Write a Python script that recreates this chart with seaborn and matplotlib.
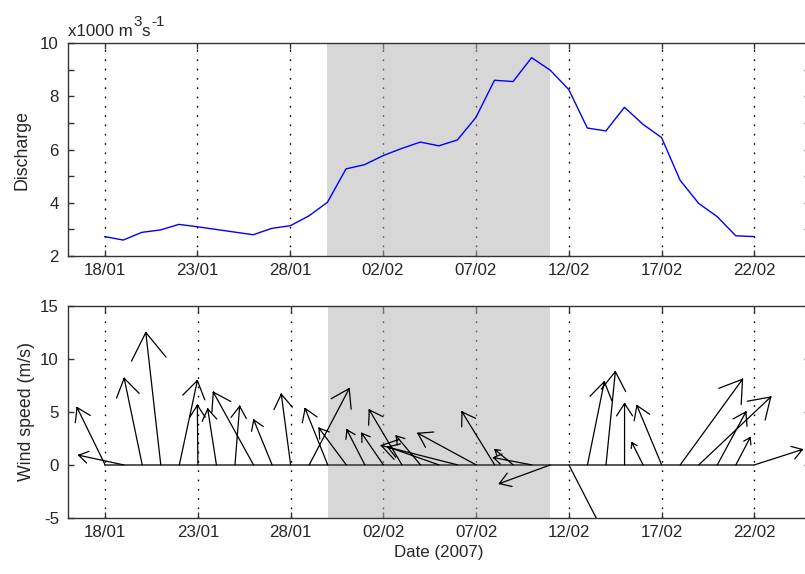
import numpy as np
import pandas as pd
import matplotlib
matplotlib.use("Agg")
import matplotlib.pyplot as plt
import matplotlib.dates as mdates
from matplotlib.ticker import FixedLocator, MultipleLocator
import seaborn as sns

# daily values, 18/01/2007 - 22/02/2007
days = pd.date_range("2007-01-18", "2007-02-22", freq="D")

# river discharge (x1000 m3/s)
discharge = [2.72, 2.59, 2.88, 2.97, 3.18, 3.09, 2.99, 2.89, 2.79, 3.03,
             3.13, 3.50, 4.01, 5.27, 5.43, 5.77, 6.04, 6.28, 6.14, 6.36,
             7.21, 8.61, 8.56, 9.46, 8.99, 8.26, 6.81, 6.70, 7.59, 6.95,
             6.45, 4.84, 3.97, 3.47, 2.75, 2.72]

# wind components (m/s), east / north
wind_u = [-2.64, -4.23, -1.70, -1.41, 1.70, -0.05, -0.82, 0.44, -3.79, -1.73,
          -0.88, 3.77, -2.13, -2.57, -1.69, -2.04, -3.08, -2.29, -4.83, -7.19,
          -5.49, -3.08, -1.72, -3.61, -4.80, 3.60, 1.59, 0.88, 0.00, -1.06,
          -2.33, 5.87, 6.78, 2.69, 1.35, 4.52]
wind_v = [5.40, 0.91, 8.16, 12.47, 7.95, 5.62, 5.27, 5.53, 6.85, 4.24,
          6.66, 7.19, 5.31, 3.46, 3.30, 2.98, 5.18, 2.73, 1.69, 1.83,
          2.98, 4.99, 1.44, 0.69, -1.76, -7.00, 7.84, 8.79, 5.78, 2.10,
          5.59, 8.07, 6.40, 4.99, 2.58, 1.45]

tick_dates = pd.date_range("2007-01-18", periods=8, freq="5D")
tick_labels = ["18/01", "23/01", "28/01", "02/02", "07/02", "12/02", "17/02", "22/02"]
shade_start, shade_end = pd.Timestamp("2007-01-30"), pd.Timestamp("2007-02-11")
x_start, x_end = pd.Timestamp("2007-01-16"), pd.Timestamp("2007-02-25")

sns.set_style("ticks")
plt.rcParams["font.family"] = ["Liberation Sans", "DejaVu Sans"]
plt.rcParams["axes.unicode_minus"] = False

FS = 12.2
SPINE = "#333333"


def style_axis(ax):
    ax.set_xlim(x_start, x_end)
    ax.xaxis.set_major_locator(FixedLocator(mdates.date2num(tick_dates.to_pydatetime())))
    ax.set_xticklabels(tick_labels)
    ax.set_axisbelow(True)
    ax.grid(axis="x", color="black", linestyle=(0, (1.2, 5.5)), lw=1)
    ax.grid(axis="y", visible=False)
    ax.axvspan(shade_start, shade_end, color="#b0b0b0", alpha=0.5, lw=0, zorder=1)
    ax.tick_params(which="both", direction="in", top=True, right=True,
                   length=4, width=1, color=SPINE, labelsize=FS)
    ax.tick_params(axis="x", pad=5)
    ax.tick_params(axis="y", pad=6.5)
    for sp in ax.spines.values():
        sp.set_visible(True)
        sp.set_color(SPINE)
        sp.set_linewidth(1)
        sp.set_zorder(3)
    ax.set_xlabel("")


fig = plt.figure(figsize=(8.05, 5.74), dpi=100)
ax1 = fig.add_axes([0.0839, 0.5545, 0.9224, 0.3700])
ax2 = fig.add_axes([0.0845, 0.0976, 0.9218, 0.3699])

# --- discharge ---
sns.lineplot(x=days, y=discharge, ax=ax1, color="blue", lw=1, zorder=4)
style_axis(ax1)
ax1.set_ylim(2, 10)
ax1.yaxis.set_major_locator(MultipleLocator(2))
ax1.yaxis.set_minor_locator(MultipleLocator(1))
ax1.set_ylabel("Discharge", fontsize=12.8, labelpad=7)

# unit label, superscripts almost full size as in the original
u1 = ax1.text(0, 1 + 4.6 / 212, "x1000 m", transform=ax1.transAxes,
              ha="left", va="bottom", fontsize=FS)
u2 = ax1.annotate("3", xy=(1, 0), xycoords=(u1, u1), xytext=(0.5, 7),
                  textcoords="offset points", va="bottom", fontsize=FS * 0.9)
u3 = ax1.annotate("s", xy=(1, 0), xycoords=(u2, u1), xytext=(0.3, 0),
                  textcoords="offset points", va="bottom", fontsize=FS)
ax1.annotate("-1", xy=(1, 0), xycoords=(u3, u1), xytext=(0.5, 7),
             textcoords="offset points", va="bottom", fontsize=FS * 0.9)

# --- wind sticks ---
style_axis(ax2)
ax2.set_ylim(-5, 15)
ax2.yaxis.set_major_locator(MultipleLocator(5))
ax2.set_ylabel("Wind speed (m/s)", fontsize=12.8, labelpad=4)
ax2.set_xlabel("Date (2007)", fontsize=FS, labelpad=4)

t = mdates.date2num(days.to_pydatetime())
ax2.plot(t, np.zeros(len(t)), color="#555555", lw=1.4, zorder=4)

# make the arrows isotropic on screen: x (days) per 1 m/s
p0 = ax2.transData.transform((t[0], 0))
px_day = ax2.transData.transform((t[0] + 1, 0))[0] - p0[0]
px_ms = ax2.transData.transform((t[0], 1))[1] - p0[1]
k = px_ms / px_day

head_frac, head_ang = 0.24, np.deg2rad(33)
xs, ys = [], []
for ti, u, v in zip(t, wind_u, wind_v):
    L = np.hypot(u, v)
    xs += [ti, ti + k * u, np.nan]
    ys += [0, v, np.nan]
    back = np.arctan2(-v, -u)
    for s in (-1, 1):
        a = back + s * head_ang
        wx = u + head_frac * L * np.cos(a)
        wy = v + head_frac * L * np.sin(a)
        xs += [ti + k * u, ti + k * wx, np.nan]
        ys += [v, wy, np.nan]
ax2.plot(xs, ys, color="black", lw=0.9, zorder=5)

fig.savefig("out.png", dpi=100)
